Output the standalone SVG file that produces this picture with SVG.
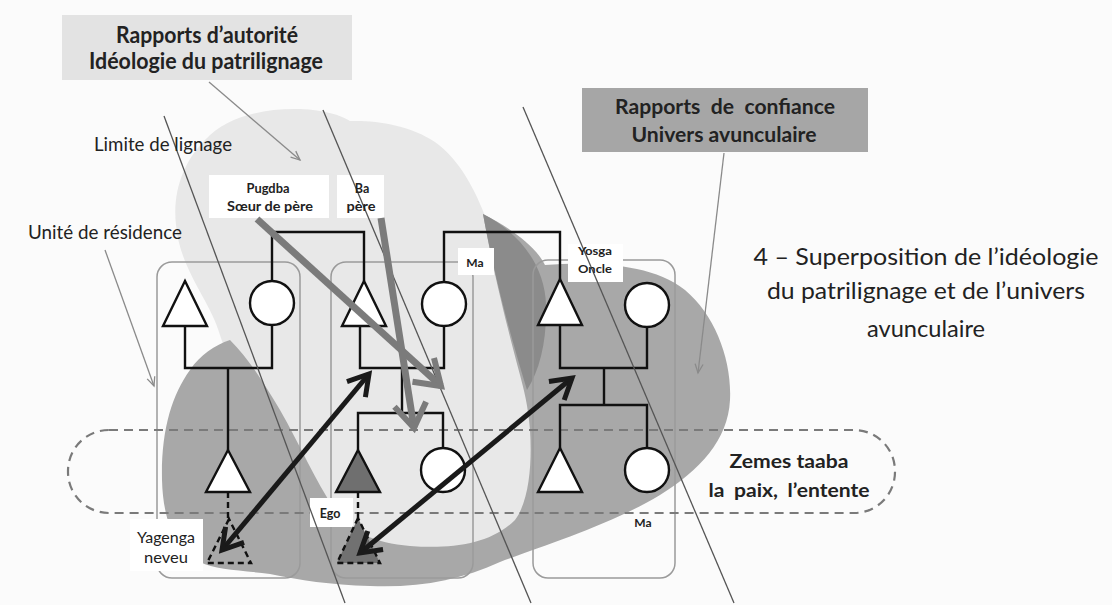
<svg xmlns="http://www.w3.org/2000/svg" width="1112" height="605" viewBox="0 0 1112 605">
<defs>
<style>
.kin{fill:none;stroke:#111;stroke-width:2.4;stroke-linejoin:miter}
.sym{fill:#fff;stroke:#111;stroke-width:2.4}
.dash{stroke-dasharray:6 4}
.box{fill:none;stroke:#9a9a9a;stroke-width:1.5}
.lim{stroke:#555;stroke-width:1.3;fill:none}
.thin{stroke:#8a8a8a;stroke-width:1.3;fill:none;marker-end:url(#ta)}
.garrow{stroke:#7b7b7b;stroke-width:7;fill:none;marker-end:url(#ga)}
.barrow{stroke:#1a1a1a;stroke-width:5;fill:none;marker-start:url(#ba);marker-end:url(#ba)}
.lbl{fill:#fff}
.tb{font-family:Lato,"Liberation Sans",sans-serif;font-weight:bold;fill:#222;text-anchor:middle}
.tr{font-family:Lato,"Liberation Sans",sans-serif;fill:#222;text-anchor:middle}
</style>
<marker id="ta" markerUnits="userSpaceOnUse" viewBox="-12 -6 14 12" markerWidth="14" markerHeight="12" refX="0" refY="0" orient="auto" overflow="visible"><path d="M-9,-4 L0,0 L-9,4" fill="none" stroke="#8a8a8a" stroke-width="1.3"/></marker>
<marker id="ga" markerUnits="userSpaceOnUse" viewBox="-30 -20 34 40" markerWidth="34" markerHeight="40" refX="0" refY="0" orient="auto" overflow="visible"><path d="M-24,-16 L0,0 L-24,16" fill="none" stroke="#7b7b7b" stroke-width="6"/></marker>
<marker id="ba" markerUnits="userSpaceOnUse" viewBox="-26 -16 30 32" markerWidth="30" markerHeight="32" refX="0" refY="0" orient="auto-start-reverse" overflow="visible"><path d="M-20,-12 L0,0 L-20,12" fill="none" stroke="#1a1a1a" stroke-width="5"/></marker>
</defs>
<rect x="0" y="0" width="1112" height="605" fill="#fbfbfb"/>

<g id="regions">
<path id="patrilignage-cloud" fill="#e8e8e8" d="M176,225 C172,190 185,160 205,140 C225,118 260,108 300,109 C325,110 340,115 350,121 C375,120 410,125 435,142 C460,160 475,190 486,218 C510,232 540,262 545,300 C548,330 545,360 540,390 L545,470 C545,520 520,560 460,566 L360,560 C320,540 290,480 250,410 C235,380 225,350 220,335 C210,300 180,270 176,225 Z"/>
<path id="avunculaire-region" fill="#a8a8a8" d="M483,214 C510,228 535,245 545,265 C590,262 650,262 685,290 C715,315 732,360 730,400 C728,440 700,470 660,495 C610,525 545,545 500,562 C460,580 420,588 370,586 C330,585 300,580 270,574 C240,570 215,570 200,562 C175,550 163,520 162,480 C161,430 172,395 190,370 C200,355 215,345 230,340 C250,360 265,385 280,410 C300,445 315,480 335,510 C350,532 375,543 410,546 C450,549 490,545 515,520 C530,500 532,460 530,430 C528,405 524,390 520,375 C508,330 495,280 483,214 Z"/>
<path id="overlap" fill="#8b8b8b" d="M483,214 C515,230 545,262 546,305 C547,340 540,370 527,390 C515,350 497,290 483,214 Z"/>
</g>

<g id="title-autorite">
<rect x="62" y="15" width="290" height="65" fill="#e3e3e3"/>
<text class="tb" x="207" y="43" font-size="22" textLength="182" lengthAdjust="spacingAndGlyphs">Rapports d’autorité</text>
<text class="tb" x="206" y="69" font-size="22" textLength="234" lengthAdjust="spacingAndGlyphs">Idéologie du patrilignage</text>
</g>

<g id="title-confiance">
<rect x="582" y="88" width="286" height="64" fill="#a6a6a6"/>
<text class="tb" x="725" y="114" font-size="20" word-spacing="5" textLength="220" lengthAdjust="spacingAndGlyphs">Rapports de confiance</text>
<text class="tb" x="724" y="142" font-size="20" textLength="185" lengthAdjust="spacingAndGlyphs">Univers avunculaire</text>
</g>

<g id="residence-units">
<rect class="box" x="157" y="262" width="143" height="316" rx="15"/>
<rect class="box" x="331" y="262" width="142" height="316" rx="15"/>
<rect class="box" x="533" y="260" width="142" height="318" rx="15"/>
</g>

<g id="zemes-band">
<rect x="68" y="430" width="827" height="83" rx="41" fill="none" stroke="#7a7a7a" stroke-width="2.2" stroke-dasharray="9 6"/>
<text class="tb" x="789" y="468" font-size="19" textLength="119" lengthAdjust="spacingAndGlyphs">Zemes taaba</text>
<text class="tb" x="789" y="497" font-size="19" word-spacing="4" textLength="161" lengthAdjust="spacingAndGlyphs">la paix, l’entente</text>
</g>

<g id="label-backgrounds">
<rect class="lbl" x="209" y="175" width="120" height="43"/>
<rect class="lbl" x="337" y="175" width="47" height="43"/>
<rect class="lbl" x="458" y="248" width="36" height="27"/>
<rect class="lbl" x="568" y="244" width="55" height="38"/>
<rect class="lbl" x="310" y="498" width="43" height="29"/>
<rect class="lbl" x="130" y="519" width="73" height="52"/>
</g>

<g id="connectors">
<path class="kin" d="M185,326 V368 H272 V325"/>
<path class="kin" d="M228,368 V450"/>
<path class="kin" d="M272,281 V232 H364 V281"/>
<path class="kin" d="M360,326 V368 H444 V326"/>
<path class="kin" d="M402,368 V413"/>
<path class="kin" d="M358,450 V413 H443 V448"/>
<path class="kin" d="M444,282 V232 H560 V279"/>
<path class="kin" d="M560,325 V368 H647 V327"/>
<path class="kin" d="M604,368 V405"/>
<path class="kin" d="M560,448 V405 H647 V448"/>
<path class="kin dash" d="M228,492 V519"/>
<path class="kin dash" d="M358,492 V518"/>
</g>

<g id="node-left-father"><polygon class="sym" points="185,281 163,326 207,326"/></g>
<g id="node-pugdba"><circle class="sym" cx="272" cy="303" r="22"/></g>
<g id="node-left-son"><polygon class="sym" points="228,450 206,492 250,492"/></g>
<g id="node-yagenga"><polygon class="sym dash" fill="none" style="fill:none" points="229,519 207,563 251,563"/></g>
<g id="node-ba"><polygon class="sym" points="364,281 342,326 386,326"/></g>
<g id="node-ma"><circle class="sym" cx="444" cy="304" r="22"/></g>
<g id="node-ego"><polygon class="sym" style="fill:#6f6f6f" points="358,450 336,492 380,492"/></g>
<g id="node-sister"><circle class="sym" cx="443" cy="470" r="22"/></g>
<g id="node-ego-child"><polygon class="sym dash" style="fill:#717171" points="358,518 337,563 380,563"/></g>
<g id="node-yosga"><polygon class="sym" points="560,279 538,325 582,325"/></g>
<g id="node-yosga-wife"><circle class="sym" cx="647" cy="305" r="22"/></g>
<g id="node-cousin-m"><polygon class="sym" points="560,448 538,492 582,492"/></g>
<g id="node-cousin-f"><circle class="sym" cx="647" cy="470" r="22"/></g>

<g id="lineage-limits">
<path class="lim" d="M164,116 L345,603"/>
<path class="lim" d="M323,110 L531,603"/>
<path class="lim" d="M523,107 L734,603"/>
</g>

<g id="pointer-arrows">
<path class="thin" d="M209,82 L300,160"/>
<path class="thin" d="M724,153 L698,373"/>
<path class="thin" d="M105,250 L154,386"/>
</g>

<g id="authority-arrows">
<path class="garrow" d="M257,219 L441,386"/>
<path class="garrow" d="M381,218 L414,428"/>
</g>

<g id="trust-arrows">
<path class="barrow" d="M222,550 L369,374"/>
<path class="barrow" d="M360,553 L572,378"/>
</g>

<g id="labels">
<text class="tr" x="163" y="151" font-size="19" textLength="138" lengthAdjust="spacingAndGlyphs">Limite de lignage</text>
<text class="tr" x="105" y="239" font-size="19" textLength="154" lengthAdjust="spacingAndGlyphs">Unité de résidence</text>
<text class="tb" x="268" y="193" font-size="12.5" textLength="43" lengthAdjust="spacingAndGlyphs">Pugdba</text>
<text class="tb" x="270" y="211" font-size="12.5" textLength="86" lengthAdjust="spacingAndGlyphs">Sœur de père</text>
<text class="tb" x="362" y="193" font-size="12.5">Ba</text>
<text class="tb" x="361" y="211" font-size="12.5" textLength="29" lengthAdjust="spacingAndGlyphs">père</text>
<text class="tb" x="475" y="267" font-size="12">Ma</text>
<text class="tb" x="595" y="255" font-size="12" textLength="34" lengthAdjust="spacingAndGlyphs">Yosga</text>
<text class="tb" x="595" y="273" font-size="12" textLength="34" lengthAdjust="spacingAndGlyphs">Oncle</text>
<text class="tb" x="643" y="527" font-size="12">Ma</text>
<text class="tb" x="330" y="518" font-size="12.5">Ego</text>
<text class="tr" x="166" y="543" font-size="15" textLength="58" lengthAdjust="spacingAndGlyphs">Yagenga</text>
<text class="tr" x="166" y="563" font-size="15" textLength="44" lengthAdjust="spacingAndGlyphs">neveu</text>
</g>

<g id="caption">
<text class="tr" x="926" y="265" font-size="24" fill="#1a1a1a" textLength="345" lengthAdjust="spacingAndGlyphs">4 – Superposition de l’idéologie</text>
<text class="tr" x="926" y="299" font-size="24" fill="#1a1a1a" textLength="318" lengthAdjust="spacingAndGlyphs">du patrilignage et de l’univers</text>
<text class="tr" x="926" y="337" font-size="24" fill="#1a1a1a" textLength="118" lengthAdjust="spacingAndGlyphs">avunculaire</text>
</g>
</svg>
